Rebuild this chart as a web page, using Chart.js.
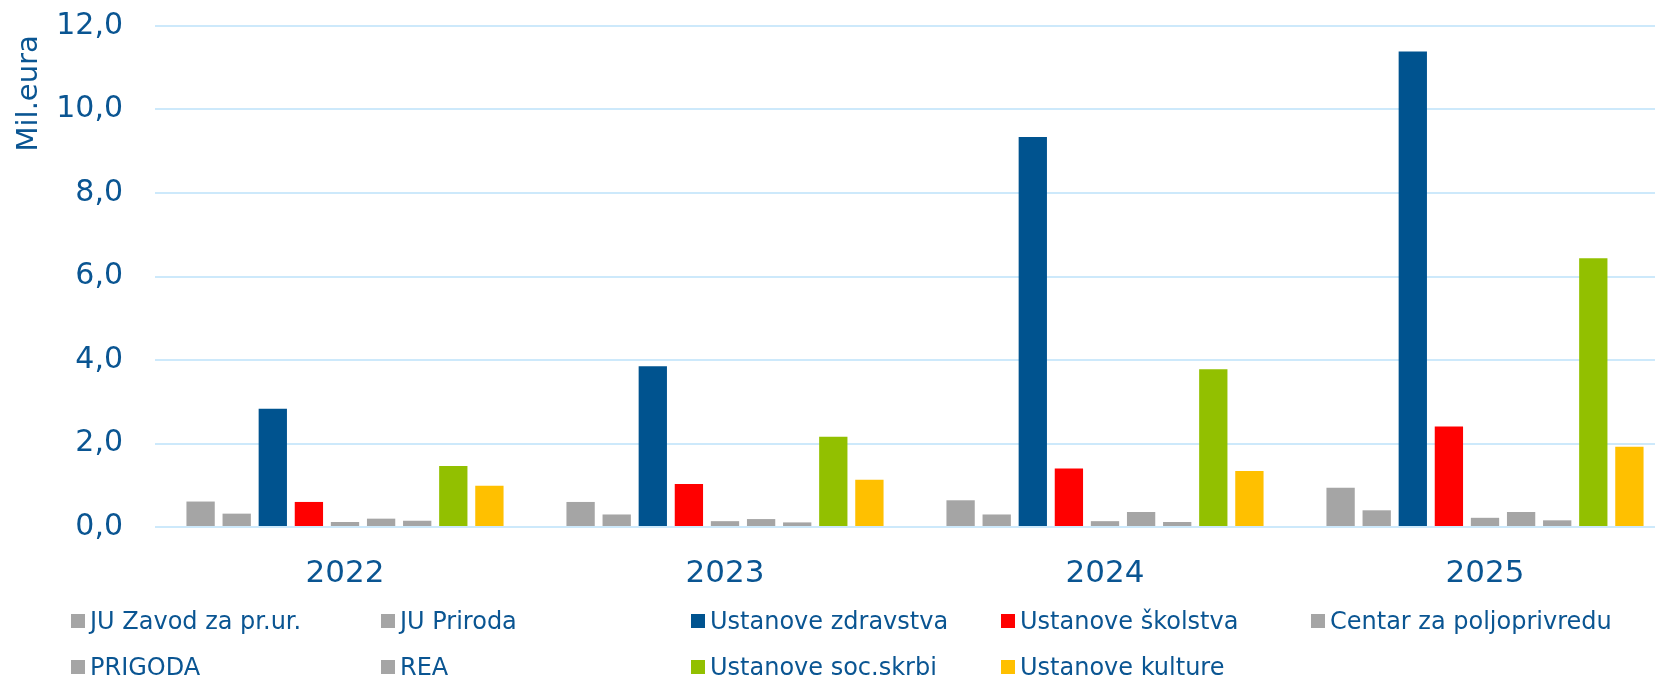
<!DOCTYPE html>
<html lang="hr">
<head>
<meta charset="utf-8">
<title>Ustanove - Mil.eura</title>
<script src="https://cdn.jsdelivr.net/npm/chart.js@4.4.1/dist/chart.umd.min.js"></script>
<style>
    html, body { margin: 0; padding: 0; background: #ffffff; overflow: hidden; width: 1655px; height: 678px; }
    #okvir { position: absolute; left: 0; top: 0; width: 1675px; height: 600px; }
    #legenda {
        position: absolute; left: 71px; top: 598px;
        display: grid; grid-template-columns: repeat(5, 310px); grid-auto-rows: 46px;
        font-family: 'DejaVu Sans', Verdana, sans-serif; font-size: 24px; color: #0a5592;
    }
    .stavka { display: flex; align-items: center; white-space: nowrap; }
    .kvadrat { width: 14px; height: 14px; margin-right: 5px; flex: none; }
</style>
</head>
<body>
<div id="okvir"><canvas id="grafikon" width="1675" height="600"></canvas></div>
<div id="legenda"></div>

<script>
// Godine (kategorije)
const godine = ['2022', '2023', '2024', '2025'];

// Iznosi po ustanovama (mil. eura)
const juZavod = [0.61, 0.60, 0.64, 0.94];
const juPriroda = [0.32, 0.30, 0.30, 0.40];
const zdravstvo = [2.83, 3.85, 9.34, 11.39];
const skolstvo = [0.60, 1.03, 1.40, 2.41];
const centar = [0.12, 0.14, 0.14, 0.22];
const prigoda = [0.20, 0.19, 0.36, 0.36];
const rea = [0.15, 0.11, 0.12, 0.16];
const socSkrbi = [1.46, 2.16, 3.78, 6.44];
const kultura = [0.99, 1.13, 1.34, 1.92];

// Nazivi serija i boje
const nazivi = ['JU Zavod za pr.ur.', 'JU Priroda', 'Ustanove zdravstva', 'Ustanove školstva',
    'Centar za poljoprivredu', 'PRIGODA', 'REA', 'Ustanove soc.skrbi', 'Ustanove kulture'];
const boje = ['#a5a5a5', '#a5a5a5', '#00538f', '#ff0000', '#a5a5a5', '#a5a5a5', '#a5a5a5', '#92c000', '#ffc000'];

// Oznake osi Y
const yOznake = [0, 2, 4, 6, 8, 10, 12];

const plava = '#0a5592';
const mreza = '#cde9fb';
const font = "'DejaVu Sans', Verdana, sans-serif";

const serije = [juZavod, juPriroda, zdravstvo, skolstvo, centar, prigoda, rea, socSkrbi, kultura];

// Skupovi podataka za graf
const skupovi = serije.map((podaci, i) => ({
    label: nazivi[i],
    data: podaci,
    backgroundColor: boje[i],
    categoryPercentage: 0.855,
    barPercentage: 0.784
}));

new Chart(document.getElementById('grafikon').getContext('2d'), {
    type: 'bar',
    data: { labels: godine, datasets: skupovi },
    options: {
        responsive: false,
        animation: false,
        layout: { padding: { top: 26, left: 0, right: 0, bottom: 0 } },
        plugins: {
            legend: { display: false },
            tooltip: { enabled: false }
        },
        scales: {
            x: {
                grid: { display: false, drawTicks: false },
                border: { display: false },
                ticks: { color: plava, font: { family: font, size: 31 }, padding: 28 },
                afterFit: (s) => { s.height = 73; }
            },
            y: {
                min: 0,
                max: 12,
                afterBuildTicks: (s) => { s.ticks = yOznake.map(v => ({ value: v })); },
                // nevidljive crtice drže razmak oznaka od grafa
                grid: { color: mreza, lineWidth: 2, drawTicks: true, tickLength: 32, tickColor: 'rgba(0,0,0,0)' },
                border: { display: false },
                ticks: {
                    color: plava,
                    font: { family: font, size: 30 },
                    padding: 0,
                    callback: (v) => Number(v).toFixed(1).replace('.', ',')
                },
                title: {
                    display: true,
                    text: 'Mil.eura ',
                    align: 'end',
                    color: plava,
                    font: { family: font, size: 29 },
                    padding: { top: 12, bottom: 0 }
                },
                afterFit: (s) => { s.width = 155; }
            }
        }
    }
});

// Legenda u dva reda
const legenda = document.getElementById('legenda');
nazivi.forEach((naziv, i) => {
    const stavka = document.createElement('div');
    stavka.className = 'stavka';
    stavka.innerHTML = `<span class="kvadrat" style="background:${boje[i]}"></span><span>${naziv}</span>`;
    legenda.appendChild(stavka);
});
</script>
</body>
</html>
